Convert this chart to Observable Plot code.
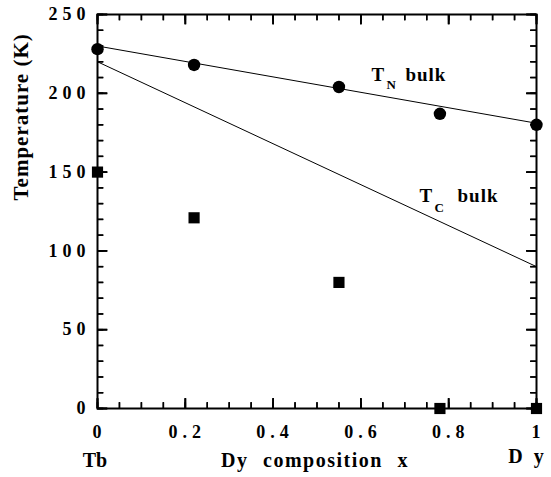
<!DOCTYPE html>
<html>
<head>
<meta charset="utf-8">
<script src="https://cdn.jsdelivr.net/npm/d3@7"></script>
<script src="https://cdn.jsdelivr.net/npm/@observablehq/plot@0.6"></script>
<style>
  body { margin: 0; background: white; }
  g[aria-label="x-axis tick label"] text, g[aria-label="y-axis tick label"] text { letter-spacing: 5px; }
  .ls1 text { letter-spacing: 1px; }
  .ls15 text { letter-spacing: 1.5px; word-spacing: 8px; }
  .ls3 text { letter-spacing: 3px; }
</style>
</head>
<body>
<div id="chart"></div>
<script>
// Dy composition x of the samples
const composition = [0, 0.22, 0.55, 0.78, 1];
// T_N (circles) and T_C (squares), in K
const tN = [228, 218, 204, 187, 180];
const tC = [150, 121, 80, 0, 0];
// bulk lines (end points at x = 0 and x = 1)
const bulkX = [0, 1];
const tNBulk = [230, 181];
const tCBulk = [220, 90];
// ticks
const xMajor = [0, 0.2, 0.4, 0.6, 0.8, 1];
const yMajor = [0, 50, 100, 150, 200, 250];
const xMinor = d3.range(0, 1.0001, 0.05);
const yMinor = d3.range(0, 250.001, 10);
// axis end labels
const endLabels = ["Tb", "D y"];

const circles = composition.map((x, i) => ({x, y: tN[i]}));
const squares = composition.map((x, i) => ({x, y: tC[i]}));
const lineN = bulkX.map((x, i) => ({x, y: tNBulk[i]}));
const lineC = bulkX.map((x, i) => ({x, y: tCBulk[i]}));

const W = 551, H = 477, ML = 97, MR = 15, MT = 14, MB = 69;
const FW = W - ML - MR, FH = H - MT - MB;
const font = "Liberation Serif";
const fmt = d => String(d);
const stick = {draw(c, l) { c.moveTo(0, 0); c.lineTo(0, -l); }};

// inward tick marks drawn as vectors from each frame edge
function ticks(values, side, len, sw) {
  const horiz = side === "left" || side === "right";
  const rotate = {left: 90, right: -90, bottom: 0, top: 180}[side];
  return Plot.vector(values, {
    [horiz ? "y" : "x"]: d => d,
    frameAnchor: side, rotate, length: len, anchor: "start",
    shape: stick, stroke: "black", strokeWidth: sw, strokeLinecap: "butt"
  });
}

const chart = Plot.plot({
  width: W,
  height: H,
  marginLeft: ML,
  marginRight: MR,
  marginTop: MT,
  marginBottom: MB,
  x: {domain: [0, 1]},
  y: {domain: [0, 250]},
  style: {fontFamily: font, color: "black", background: "white"},
  marks: [
    Plot.frame({strokeWidth: 2, fill: "none", stroke: "black"}),
    // tick labels
    Plot.axisY(yMajor, {anchor: "left", tickSize: 0, tickPadding: 7, fontSize: 18, fontWeight: "bold", label: null, tickFormat: fmt}),
    Plot.axisX(xMajor, {anchor: "bottom", tickSize: 0, tickPadding: 17, fontSize: 18, fontWeight: "bold", label: null, dx: 2, tickFormat: fmt}),
    // bulk lines
    Plot.line(lineN, {x: "x", y: "y", strokeWidth: 1, stroke: "black"}),
    Plot.line(lineC, {x: "x", y: "y", strokeWidth: 1, stroke: "black"}),
    // data
    Plot.dot(circles, {x: "x", y: "y", r: 6.2, fill: "black", stroke: "none"}),
    Plot.dot(squares, {x: "x", y: "y", r: 6.3, symbol: "square", fill: "black", stroke: "none"}),
    // annotations
    Plot.text(["T"], {x: 0.624, y: 211.4, textAnchor: "start", fontSize: 19, fontWeight: "bold", fill: "black"}),
    Plot.text(["N"], {x: 0.624, y: 211.4, textAnchor: "start", fontSize: 13, fontWeight: "bold", dx: 15, dy: 9.9, fill: "black"}),
    Plot.text(["bulk"], {x: 0.624, y: 211.4, textAnchor: "start", fontSize: 19, fontWeight: "bold", dx: 34, className: "ls1", fill: "black"}),
    Plot.text(["T"], {x: 0.7335, y: 134.6, textAnchor: "start", fontSize: 19, fontWeight: "bold", fill: "black"}),
    Plot.text(["C"], {x: 0.7335, y: 134.6, textAnchor: "start", fontSize: 13, fontWeight: "bold", dx: 15, dy: 11.9, fill: "black"}),
    Plot.text(["bulk"], {x: 0.7335, y: 134.6, textAnchor: "start", fontSize: 19, fontWeight: "bold", dx: 38, className: "ls1", fill: "black"}),
    // axis titles
    Plot.text(["Temperature (K)"], {frameAnchor: "left", rotate: -90, dx: -76, dy: -11, fontSize: 21, fontWeight: "bold", className: "ls1", fill: "black"}),
    Plot.text(["Dy composition x"], {frameAnchor: "bottom", dx: -2, dy: 58, fontSize: 20, fontWeight: "bold", className: "ls15", fill: "black"}),
    Plot.text(endLabels.slice(0, 1), {x: bulkX.slice(0, 1), frameAnchor: "bottom", dx: -2.5, dy: 58, fontSize: 20, fontWeight: "bold", fill: "black"}),
    Plot.text(endLabels.slice(1), {x: bulkX.slice(1), frameAnchor: "bottom", dx: -9, dy: 54, fontSize: 20, fontWeight: "bold", className: "ls3", fill: "black"}),
    // inward ticks on all four sides (tick marks, then vectors on top)
    Plot.tickY(yMajor, {y: d => d, insetRight: FW - 10, strokeWidth: 1.8, stroke: "black"}),
    Plot.tickY(yMinor, {y: d => d, insetRight: FW - 6, strokeWidth: 1.5, stroke: "black"}),
    Plot.tickY(yMajor, {y: d => d, insetLeft: FW - 10, strokeWidth: 1.8, stroke: "black"}),
    Plot.tickY(yMinor, {y: d => d, insetLeft: FW - 6, strokeWidth: 1.5, stroke: "black"}),
    Plot.tickX(xMajor, {x: d => d, insetTop: FH - 10, strokeWidth: 1.8, stroke: "black"}),
    Plot.tickX(xMinor, {x: d => d, insetTop: FH - 6, strokeWidth: 1.5, stroke: "black"}),
    Plot.tickX(xMajor, {x: d => d, insetBottom: FH - 10, strokeWidth: 1.8, stroke: "black"}),
    Plot.tickX(xMinor, {x: d => d, insetBottom: FH - 6, strokeWidth: 1.5, stroke: "black"}),
    ticks(yMajor, "left", 10, 1.8),
    ticks(yMinor, "left", 6, 1.5),
    ticks(yMajor, "right", 10, 1.8),
    ticks(yMinor, "right", 6, 1.5),
    ticks(xMajor, "bottom", 10, 1.8),
    ticks(xMinor, "bottom", 6, 1.5),
    ticks(xMajor, "top", 10, 1.8),
    ticks(xMinor, "top", 6, 1.5)
  ]
});
document.getElementById("chart").appendChild(chart);
</script>
</body>
</html>
